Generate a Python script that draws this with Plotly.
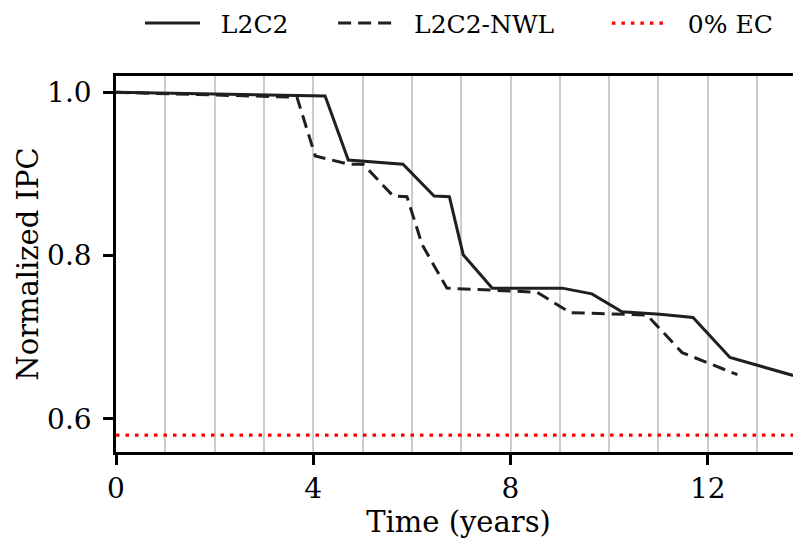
import plotly.graph_objects as go

# L2C2 series
l2c2_x = [0, 4.24, 4.71, 5.82, 6.45, 6.76, 7.04, 7.63, 9.05, 9.65, 10.26, 11.03, 11.70, 12.45, 13.73]
l2c2_y = [1.0, 0.9955, 0.917, 0.912, 0.873, 0.872, 0.801, 0.760, 0.760, 0.753, 0.731, 0.728, 0.724, 0.675, 0.653]

# L2C2-NWL series
nwl_x = [0, 3.67, 4.04, 4.71, 5.01, 5.62, 5.90, 6.21, 6.71, 8.54, 9.21, 10.77, 11.48, 12.60]
nwl_y = [1.0, 0.994, 0.922, 0.912, 0.912, 0.873, 0.872, 0.813, 0.760, 0.755, 0.730, 0.727, 0.681, 0.654]

# 0% EC reference level
ec0_level = 0.58
x_range = [0, 13.89]
y_range = [0.5592, 1.020]
x_ticks = [0, 4, 8, 12]
y_ticks = [0.6, 0.8, 1.0]
y_ticklabels = ["0.6", "0.8", "1.0"]
series_names = ["L2C2", "L2C2-NWL", "0% EC"]

FONT = "DejaVu Serif"
INK = "#1f1f1f"
NB = "\u00a0"

fig = go.Figure()
fig.add_trace(go.Scatter(x=l2c2_x, y=l2c2_y, mode="lines", name=NB * 2 + series_names[0] + NB * 5,
                         line=dict(color=INK, width=3)))
fig.add_trace(go.Scatter(x=nwl_x, y=nwl_y, mode="lines", name=NB * 2 + series_names[1] + NB * 6,
                         line=dict(color=INK, width=3, dash="13px,7px")))
fig.add_trace(go.Scatter(x=x_range, y=[ec0_level, ec0_level], mode="lines", name=NB * 2 + series_names[2],
                         line=dict(color="#ff0000", width=3.3, dash="3.5px,6px")))

# page body has an 8px default margin, so the figure is drawn offset by (8, 8)
fig.update_layout(
    width=801, height=552,
    margin=dict(l=108, r=8, t=68, b=108, autoexpand=False),
    paper_bgcolor="white", plot_bgcolor="white",
    font=dict(family=FONT, size=28, color="black"),
    showlegend=True,
    legend=dict(orientation="h", x=0.035, xanchor="left", y=1.14, yanchor="middle",
                itemwidth=55,
                font=dict(family=FONT, size=25), bgcolor="rgba(0,0,0,0)"),
    xaxis=dict(range=x_range, tickvals=x_ticks, ticks="outside", ticklen=10, tickwidth=2.5,
               tickcolor="black", showline=True, linecolor="black", linewidth=2.5, mirror=True,
               showgrid=True, gridcolor="#cccccc", gridwidth=1.5, zeroline=False,
               automargin=False,
               minor=dict(dtick=1, showgrid=True, gridcolor="#cccccc", gridwidth=1.5, ticks=""),
               title=dict(text="Time (years)", standoff=3, font=dict(size=29)),
               tickfont=dict(size=28)),
    yaxis=dict(range=y_range, tickvals=y_ticks, ticktext=y_ticklabels, ticks="outside", ticklen=10,
               tickwidth=2.5, tickcolor="black", showline=True, linecolor="black", linewidth=2.5,
               mirror=False, showgrid=False, zeroline=False, automargin=False,
               ticklabelstandoff=6,
               title=dict(text="Normalized IPC", standoff=0, font=dict(size=29)),
               tickfont=dict(size=28)),
)

fig.write_html("out.html")
